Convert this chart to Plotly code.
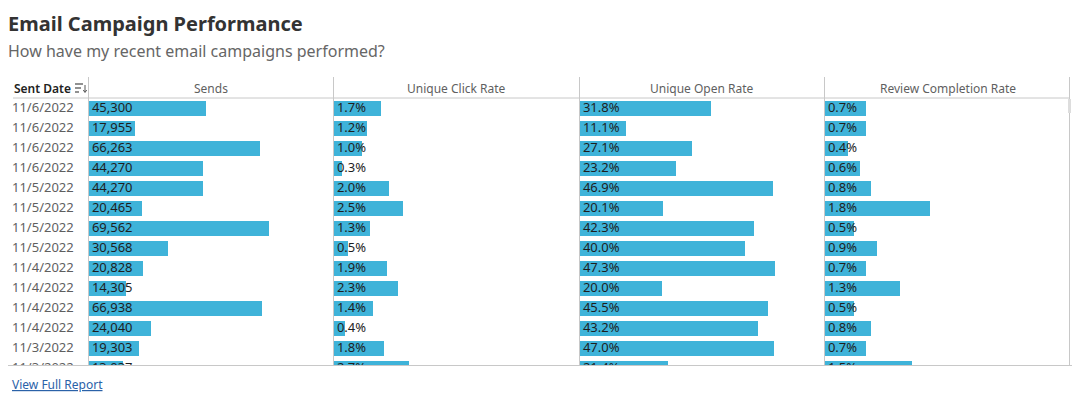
import plotly.graph_objects as go

# ---------------- data ----------------
sent_dates = ["11/6/2022", "11/6/2022", "11/6/2022", "11/6/2022",
              "11/5/2022", "11/5/2022", "11/5/2022", "11/5/2022",
              "11/4/2022", "11/4/2022", "11/4/2022", "11/4/2022",
              "11/3/2022", "11/3/2022"]
sends = [45300, 17955, 66263, 44270, 44270, 20465, 69562, 30568,
         20828, 14305, 66938, 24040, 19303, 13037]
unique_click_rate = [1.7, 1.2, 1.0, 0.3, 2.0, 2.5, 1.3, 0.5, 1.9, 2.3, 1.4, 0.4, 1.8, 2.7]
unique_open_rate = [31.8, 11.1, 27.1, 23.2, 46.9, 20.1, 42.3, 40.0, 47.3, 20.0, 45.5, 43.2, 47.0, 21.4]
review_completion_rate = [0.7, 0.7, 0.4, 0.6, 0.8, 1.8, 0.5, 0.9, 0.7, 1.3, 0.5, 0.8, 0.7, 1.5]
column_titles = ["Sends", "Unique Click Rate", "Unique Open Rate", "Review Completion Rate"]

# ---------------- layout constants ----------------
W, H = 1072, 396
def px(x):
    return x / W
def py(y):
    return 1 - y / H

BAR = "#3fb3d9"
GRID = "#c8c8c8"
FONT = "Noto Sans"
TXT_DARK = "#1e1e1e"
TXT_GREY = "#5f5f5f"

n = len(sent_dates)
rows = list(range(n))

cols = [  # (x0px, x1px, values, axis max, formatter)
    (89, 333, sends, 94400, lambda v: f"{v:,}"),
    (334, 579, unique_click_rate, 8.85, lambda v: f"{v:.1f}%"),
    (580, 824, unique_open_rate, 59.2, lambda v: f"{v:.1f}%"),
    (825, 1070, review_completion_rate, 4.22, lambda v: f"{v:.1f}%"),
]

fig = go.Figure()

# date column as text trace (clipped to table area)
fig.add_trace(go.Scatter(
    x=[0] * n, y=rows, text=sent_dates, mode="text",
    textposition="middle right", cliponaxis=True,
    textfont=dict(family=FONT, size=13, color=TXT_GREY),
    xaxis="x", yaxis="y", hoverinfo="skip", showlegend=False))

for i, (x0, x1, vals, vmax, fmt) in enumerate(cols):
    ax = f"x{i + 2}"
    fig.add_trace(go.Bar(
        x=vals, y=rows, orientation="h", width=0.75,
        marker=dict(color=BAR, line=dict(width=0)),
        xaxis=ax, yaxis="y", hoverinfo="skip", showlegend=False))
    fig.add_trace(go.Scatter(
        x=[0] * n, y=rows, text=[fmt(v) for v in vals], mode="markers+text",
        marker=dict(size=3, opacity=0),
        textposition="middle right", cliponaxis=True,
        textfont=dict(family=FONT, size=13, color=TXT_DARK),
        xaxis=ax, yaxis="y", hoverinfo="skip", showlegend=False))

ydom = [py(365), py(98)]
layout = dict(
    width=W, height=H, autosize=False,
    margin=dict(l=0, r=0, t=0, b=0),
    paper_bgcolor="white", plot_bgcolor="white",
    font=dict(family=FONT),
    bargap=0,
    hovermode=False,
    yaxis=dict(domain=ydom, range=[12.825, -0.525], showticklabels=False,
               showgrid=False, zeroline=False, showline=False, fixedrange=True),
    xaxis=dict(domain=[px(12), px(88)], range=[0, 76], visible=False, fixedrange=True),
)
for i, (x0, x1, vals, vmax, fmt) in enumerate(cols):
    layout[f"xaxis{i + 2}"] = dict(domain=[px(x0), px(x1)], range=[0, vmax],
                                  visible=False, fixedrange=True, anchor="y")
fig.update_layout(**layout)

shapes = []
def line(x0, y0, x1, y1, color=GRID, w=1):
    shapes.append(dict(type="line", xref="paper", yref="paper",
                       x0=px(x0), y0=py(y0), x1=px(x1), y1=py(y1),
                       line=dict(color=color, width=w)))

line(13, 98, 1070, 98)          # header bottom
line(8, 365.5, 1072, 365.5)     # table bottom
for xs in [88.5, 333.5, 579.5, 824.5, 1069.5]:
    line(xs, 77, xs, 365.5)
# sort icon next to "Sent Date"
line(75, 84, 83, 84, "#555555", 1.3)
line(75, 88, 81, 88, "#555555", 1.3)
line(75, 92, 79, 92, "#555555", 1.3)
line(85, 85, 85, 92, "#555555", 1)
line(83.3, 90, 85, 92.5, "#555555", 1)
line(86.7, 90, 85, 92.5, "#555555", 1)
# scrollbar thumb
shapes.append(dict(type="rect", xref="paper", yref="paper",
                   x0=px(1068), x1=px(1071), y0=py(113), y1=py(99),
                   fillcolor="#dddddd", line=dict(width=0)))
fig.update_layout(shapes=shapes)

ann = []
def note(text, x, y, size, color, xanchor="left", weight="normal"):
    ann.append(dict(text=text, xref="paper", yref="paper", x=px(x), y=py(y),
                    xanchor=xanchor, yanchor="middle", showarrow=False,
                    font=dict(family=FONT, size=size, color=color, weight=weight)))

note("<b>Email Campaign Performance</b>", 6, 24, 20, "#333333")
note("How have my recent email campaigns performed?", 6, 51, 16, "#666666")
note("Sent Date", 12, 88, 12, "#222222", weight=600)
for (x0, x1, vals, vmax, fmt), title in zip(cols, column_titles):
    note(title, (x0 + x1) / 2, 88, 12, TXT_GREY, xanchor="center")
note("<u>View Full Report</u>", 10, 384, 12, "#2b62a8")
fig.update_layout(annotations=ann)

fig.write_html("out.html", config={"displayModeBar": False, "responsive": False},
               post_script="document.body.style.margin='0';document.body.style.overflow='hidden';")
